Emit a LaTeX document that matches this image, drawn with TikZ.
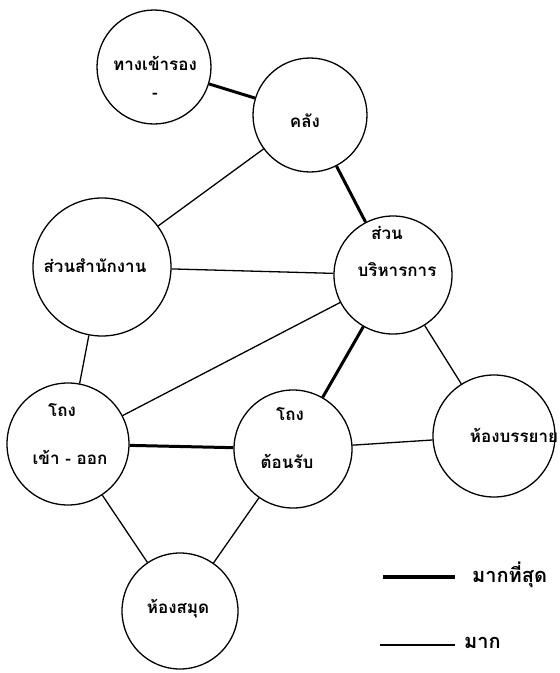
\documentclass[tikz,border=0pt]{standalone}
\usepackage{fontspec}
\newfontfamily\thaifont[Script=Thai]{Loma}
\usepackage{tikz}

\begin{document}
\begin{tikzpicture}[x=1pt,y=-1pt,
  room/.style={draw,circle,line width=1.3pt,inner sep=0pt},
  txt/.style={font=\thaifont\bfseries\fontsize{17}{19}\selectfont,inner sep=0pt},
  most/.style={line width=3pt},
  much/.style={line width=1.3pt}]
\useasboundingbox (0,0) rectangle (560,673);
% rooms
\node[room,minimum size=114pt] (entry) at (154,67) {};
\node[room,minimum size=114pt] (store) at (310,115) {};
\node[room,minimum size=138pt] (office) at (102,267) {};
\node[room,minimum size=118pt] (admin) at (393,275) {};
\node[room,minimum size=122pt] (hall) at (68,444) {};
\node[room,minimum size=118pt] (recep) at (293,449) {};
\node[room,minimum size=122pt] (lecture) at (494,436) {};
\node[room,minimum size=116pt] (library) at (180,611) {};
% names
\node[txt] (entryA) at (155,63) {ทางเข้ารอง};
\node[txt] (entryB) at (155,96) {-};
\node[txt] (storeA) at (305,121) {คลัง};
\node[txt] (officeA) at (95,266) {ส่วนสำนักงาน};
\node[txt] (adminA) at (387,233) {ส่วน};
\node[txt] (adminB) at (397,270) {บริหารการ};
\node[txt] (hallA) at (62,410) {โถง};
\node[txt] (hallB) at (70,457) {เข้า - ออก};
\node[txt] (recepA) at (290,414) {โถง};
\node[txt] (recepB) at (287,461) {ต้อนรับ};
\node[txt] (lectureA) at (514,435) {ห้องบรรยาย};
\node[txt] (libraryA) at (178,609) {ห้องสมุด};
% links
\draw[most] (entry) -- (store);
\draw[most] (store) -- (admin);
\draw[much] (store) -- (office);
\draw[much] (office) -- (admin);
\draw[much] (office) -- (hall);
\draw[much] (hall) -- (admin);
\draw[most] (admin) -- (recep);
\draw[much] (admin) -- (lecture);
\draw[most] (hall) -- (recep);
\draw[much] (recep) -- (lecture);
\draw[much] (hall) -- (library);
\draw[much] (recep) -- (library);
% legend
\coordinate (k1a) at (383,577);
\coordinate (k1b) at (455,577);
\coordinate (k2a) at (380,645);
\coordinate (k2b) at (455,645);
\draw[line width=4pt] (k1a) -- (k1b);
\draw[much] (k2a) -- (k2b);
\node[txt,anchor=west,font=\thaifont\bfseries\fontsize{20}{22}\selectfont] (key1) at (472,575) {มากที่สุด};
\node[txt,anchor=west,font=\thaifont\bfseries\fontsize{20}{22}\selectfont] (key2) at (464,643) {มาก};
\end{tikzpicture}
\end{document}
